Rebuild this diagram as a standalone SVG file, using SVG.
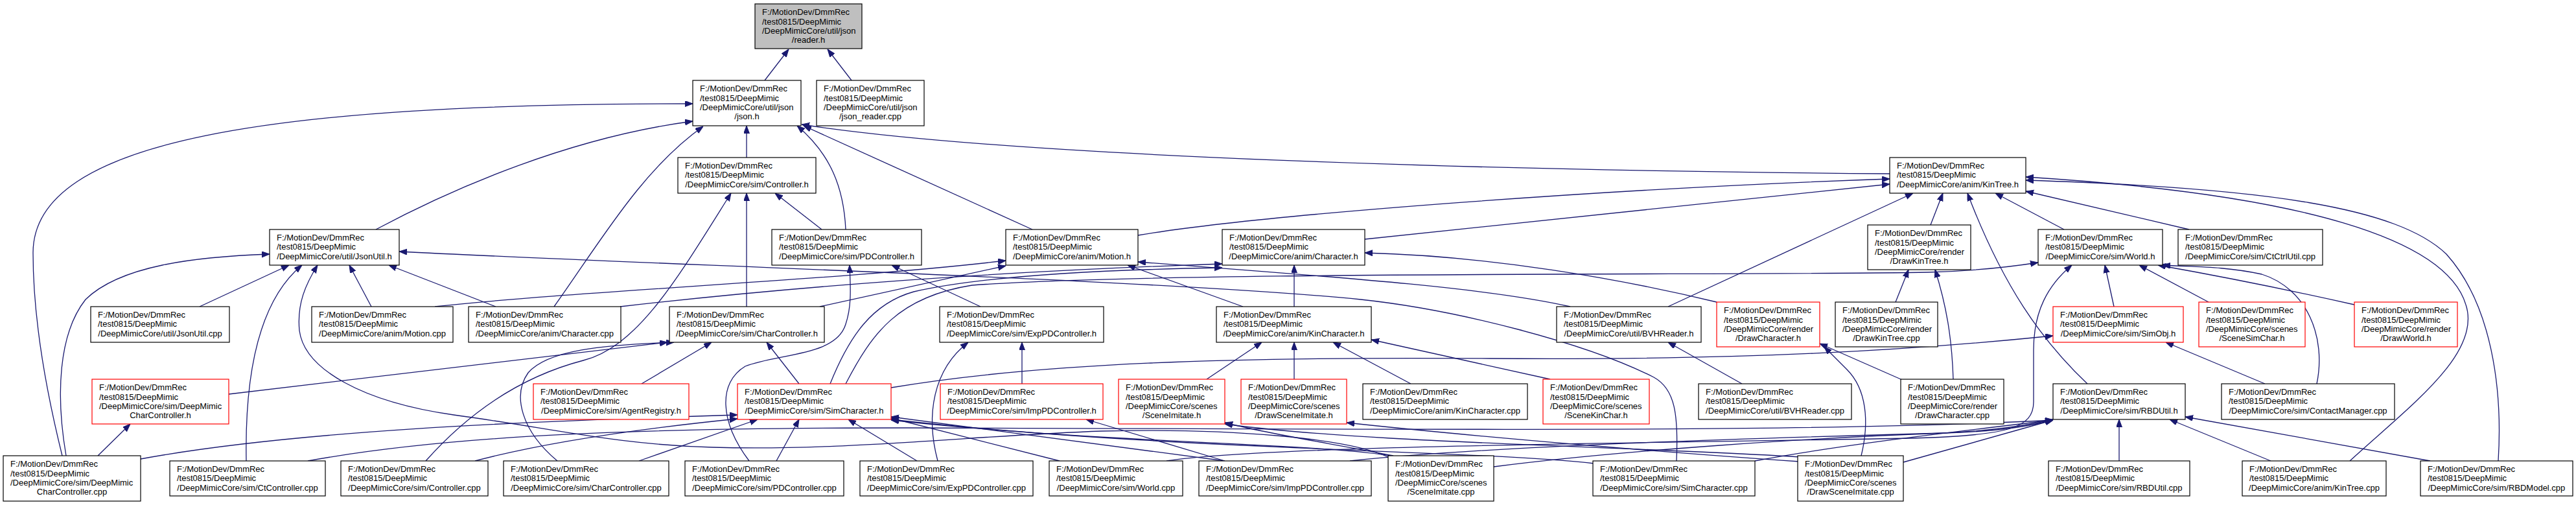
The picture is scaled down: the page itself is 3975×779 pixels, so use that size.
<svg xmlns="http://www.w3.org/2000/svg" width="3975" height="779" viewBox="0 0 3975 779">
<style>
.n rect{fill:#fff;stroke:#000;stroke-width:1.2}
.n.r rect{stroke:#f00}
.n.g rect{fill:#bfbfbf}
text{font-family:"Liberation Sans",Arial,sans-serif;font-size:13px;fill:#000}
.m{text-anchor:middle}
#edges path{fill:none;stroke:#191970;stroke-width:1.3;marker-end:url(#a)}
</style>
<defs>
<marker id="a" markerWidth="12" markerHeight="10" refX="12" refY="4.5" orient="auto" markerUnits="userSpaceOnUse"><path d="M0,0 L12,4.5 L0,9 Z" fill="#191970" stroke="#191970" stroke-width="1"/></marker>
</defs>
<rect width="3975" height="779" fill="#fff"/>
<g id="edges">
<path d="M1180,124 L1217,76"/>
<path d="M1314,124 L1277,76"/>
<path d="M96,703 C68,590 51,480 51,390 C51,215 420,160 1069,160"/>
<path d="M102,703 C86,610 90,515 132,462 C185,410 300,396 416,392"/>
<path d="M580,354 C700,290 880,212 1069,187"/>
<path d="M855,473 C925,375 990,262 1085,195"/>
<path d="M1152,243 L1152,194"/>
<path d="M1305,354 C1302,290 1282,238 1230,194"/>
<path d="M1593,354 L1240,194"/>
<path d="M2916,268 C2300,263 1560,242 1237,192"/>
<path d="M1756,363 C1950,330 2500,290 2916,276"/>
<path d="M2106,369 L2916,284"/>
<path d="M2574,473 L2952,298"/>
<path d="M2979,347 L2998,298"/>
<path d="M3221,592 C3150,525 3090,440 3036,298"/>
<path d="M3185,354 L3079,298"/>
<path d="M3378,354 L3126,295"/>
<path d="M3626,711 C3720,625 3830,545 3805,470 C3775,370 3560,300 3126,273"/>
<path d="M3855,711 C3862,600 3845,470 3775,392 C3700,320 3500,290 3126,278"/>
<path d="M1268,354 L1196,298"/>
<path d="M1152,473 L1152,298"/>
<path d="M657,711 C720,640 800,582 900,556 C985,534 1045,430 1128,298"/>
<path d="M308,473 L446,409"/>
<path d="M380,711 C378,600 392,470 466,409"/>
<path d="M573,473 L539,409"/>
<path d="M765,473 L600,409"/>
<path d="M860,711 C805,665 790,610 815,575 C845,540 930,532 1040,528"/>
<path d="M353,608 L1030,528"/>
<path d="M990,592 L1098,528"/>
<path d="M1233,592 L1183,528"/>
<path d="M151,703 L201,654"/>
<path d="M671,473 C900,448 1300,432 1552,402"/>
<path d="M957,473 C1200,445 1500,420 1886,407"/>
<path d="M1265,473 L1552,410"/>
<path d="M1281,592 C1310,520 1345,468 1410,450 C1520,425 1700,416 1886,413"/>
<path d="M1305,592 C1345,515 1385,458 1500,440 C1800,418 2700,425 2975,420 C3050,418 3100,412 3145,405"/>
<path d="M1375,598 C1600,560 1900,550 2300,553 C2700,556 2950,540 3168,518"/>
<path d="M2587,711 C2590,640 2585,600 2552,582 C2450,530 2250,478 2100,462 C1800,432 1000,408 616,388"/>
<path d="M2423,473 C2300,445 2100,430 1756,404"/>
<path d="M1997,473 L1997,409"/>
<path d="M1918,473 L1740,409"/>
<path d="M2649,466 C2500,430 2300,395 2106,390"/>
<path d="M1862,585 L1947,528"/>
<path d="M1997,585 L1997,528"/>
<path d="M2177,592 L2057,528"/>
<path d="M2392,585 L2116,524"/>
<path d="M2688,592 L2574,528"/>
<path d="M2940,588 L2808,530"/>
<path d="M2872,703 C2885,650 2880,600 2850,570 C2835,555 2825,545 2815,535"/>
<path d="M2925,466 L2945,416"/>
<path d="M3014,585 C3012,520 3003,470 2986,416"/>
<path d="M3262,473 L3248,409"/>
<path d="M3408,466 L3301,409"/>
<path d="M3633,470 C3500,440 3420,425 3330,409"/>
<path d="M3575,592 C3590,520 3560,445 3490,423 C3430,410 3380,412 3337,409"/>
<path d="M3495,592 L3342,528"/>
<path d="M1800,711 C1950,688 2500,684 2950,676 C3100,672 3138,660 3138,620 L3138,540 C3138,480 3160,440 3197,409"/>
<path d="M2083,711 C2300,688 2700,676 3000,668 C3080,666 3130,658 3168,648"/>
<path d="M2305,720 C2500,695 2800,675 3000,668 C3080,664 3130,656 3168,647"/>
<path d="M2708,711 C2850,685 3000,668 3168,648"/>
<path d="M2937,713 L3168,648"/>
<path d="M3270,711 L3270,647"/>
<path d="M3504,711 L3348,647"/>
<path d="M3750,711 L3372,643"/>
<path d="M475,711 C700,670 1000,660 1400,660 C2200,662 2800,668 3168,648"/>
<path d="M217,708 C450,665 800,650 1138,640"/>
<path d="M733,711 C850,680 1000,660 1138,646"/>
<path d="M986,711 L1169,647"/>
<path d="M1198,711 L1233,647"/>
<path d="M1415,711 L1309,647"/>
<path d="M1635,711 L1375,645"/>
<path d="M1890,711 L1375,643"/>
<path d="M1890,711 L1676,647"/>
<path d="M2150,704 C2050,684 1700,684 1375,648"/>
<path d="M2460,715 C2300,695 1800,695 1375,647"/>
<path d="M2150,703 C2060,685 1960,670 1890,652"/>
<path d="M2780,705 C2500,688 2100,683 1890,654"/>
<path d="M2777,712 C2600,700 2300,676 2078,652"/>
<path d="M2142,705 C2080,676 1900,660 1700,665 C1500,672 1300,696 1100,690 C950,686 850,660 700,640 C560,620 470,570 462,510 C458,468 472,438 490,409"/>
<path d="M1156,711 C1110,650 1108,590 1150,565 C1200,545 1290,550 1305,500 C1315,470 1312,440 1311,409"/>
<path d="M1447,711 C1428,640 1440,570 1494,528"/>
<path d="M1577,592 L1577,528"/>
<path d="M1513,473 L1376,409"/>
</g>

<g id="n0" class="n g"><rect x="1165" y="6" width="165" height="69"/><text x="1176" y="23.2">F:/MotionDev/DmmRec</text><text x="1176" y="37.6">/test0815/DeepMimic</text><text x="1176" y="52">/DeepMimicCore/util/json</text><text class="m" x="1247.5" y="66.4">/reader.h</text></g>
<g id="n1" class="n"><rect x="1069" y="124" width="167" height="70"/><text x="1080" y="141.2">F:/MotionDev/DmmRec</text><text x="1080" y="155.6">/test0815/DeepMimic</text><text x="1080" y="170">/DeepMimicCore/util/json</text><text class="m" x="1152.5" y="184.4">/json.h</text></g>
<g id="n2" class="n"><rect x="1260" y="124" width="166" height="70"/><text x="1271" y="141.2">F:/MotionDev/DmmRec</text><text x="1271" y="155.6">/test0815/DeepMimic</text><text x="1271" y="170">/DeepMimicCore/util/json</text><text class="m" x="1343" y="184.4">/json_reader.cpp</text></g>
<g id="n3" class="n"><rect x="1046" y="243" width="213" height="55"/><text x="1057" y="260">F:/MotionDev/DmmRec</text><text x="1057" y="274.4">/test0815/DeepMimic</text><text class="m" x="1152.5" y="288.8">/DeepMimicCore/sim/Controller.h</text></g>
<g id="n4" class="n"><rect x="2916" y="243" width="210" height="55"/><text x="2927" y="260">F:/MotionDev/DmmRec</text><text x="2927" y="274.4">/test0815/DeepMimic</text><text class="m" x="3021" y="288.8">/DeepMimicCore/anim/KinTree.h</text></g>

<g id="n5" class="n"><rect x="416" y="354" width="200" height="55"/><text x="427" y="371">F:/MotionDev/DmmRec</text><text x="427" y="385.4">/test0815/DeepMimic</text><text class="m" x="516" y="399.8">/DeepMimicCore/util/JsonUtil.h</text></g>
<g id="n6" class="n"><rect x="1191" y="354" width="231" height="55"/><text x="1202" y="371">F:/MotionDev/DmmRec</text><text x="1202" y="385.4">/test0815/DeepMimic</text><text class="m" x="1306.5" y="399.8">/DeepMimicCore/sim/PDController.h</text></g>
<g id="n7" class="n"><rect x="1552" y="354" width="204" height="55"/><text x="1563" y="371">F:/MotionDev/DmmRec</text><text x="1563" y="385.4">/test0815/DeepMimic</text><text class="m" x="1654" y="399.8">/DeepMimicCore/anim/Motion.h</text></g>
<g id="n8" class="n"><rect x="1886" y="354" width="220" height="55"/><text x="1897" y="371">F:/MotionDev/DmmRec</text><text x="1897" y="385.4">/test0815/DeepMimic</text><text class="m" x="1996" y="399.8">/DeepMimicCore/anim/Character.h</text></g>
<g id="n9" class="n"><rect x="2882" y="347" width="159" height="69"/><text x="2893" y="364.2">F:/MotionDev/DmmRec</text><text x="2893" y="378.6">/test0815/DeepMimic</text><text x="2893" y="393">/DeepMimicCore/render</text><text class="m" x="2961.5" y="407.4">/DrawKinTree.h</text></g>
<g id="n10" class="n"><rect x="3145" y="354" width="192" height="55"/><text x="3156" y="371">F:/MotionDev/DmmRec</text><text x="3156" y="385.4">/test0815/DeepMimic</text><text class="m" x="3241" y="399.8">/DeepMimicCore/sim/World.h</text></g>
<g id="n11" class="n"><rect x="3361" y="354" width="223" height="55"/><text x="3372" y="371">F:/MotionDev/DmmRec</text><text x="3372" y="385.4">/test0815/DeepMimic</text><text class="m" x="3472.5" y="399.8">/DeepMimicCore/sim/CtCtrlUtil.cpp</text></g>

<g id="n12" class="n"><rect x="140" y="473" width="214" height="55"/><text x="151" y="490">F:/MotionDev/DmmRec</text><text x="151" y="504.4">/test0815/DeepMimic</text><text class="m" x="247" y="518.8">/DeepMimicCore/util/JsonUtil.cpp</text></g>
<g id="n13" class="n"><rect x="481" y="473" width="218" height="55"/><text x="492" y="490">F:/MotionDev/DmmRec</text><text x="492" y="504.4">/test0815/DeepMimic</text><text class="m" x="590" y="518.8">/DeepMimicCore/anim/Motion.cpp</text></g>
<g id="n14" class="n"><rect x="723" y="473" width="235" height="55"/><text x="734" y="490">F:/MotionDev/DmmRec</text><text x="734" y="504.4">/test0815/DeepMimic</text><text class="m" x="840.5" y="518.8">/DeepMimicCore/anim/Character.cpp</text></g>
<g id="n15" class="n"><rect x="1033" y="473" width="239" height="55"/><text x="1044" y="490">F:/MotionDev/DmmRec</text><text x="1044" y="504.4">/test0815/DeepMimic</text><text class="m" x="1152.5" y="518.8">/DeepMimicCore/sim/CharController.h</text></g>
<g id="n16" class="n"><rect x="1450" y="473" width="253" height="55"/><text x="1461" y="490">F:/MotionDev/DmmRec</text><text x="1461" y="504.4">/test0815/DeepMimic</text><text class="m" x="1576.5" y="518.8">/DeepMimicCore/sim/ExpPDController.h</text></g>
<g id="n17" class="n"><rect x="1877" y="473" width="239" height="55"/><text x="1888" y="490">F:/MotionDev/DmmRec</text><text x="1888" y="504.4">/test0815/DeepMimic</text><text class="m" x="1996.5" y="518.8">/DeepMimicCore/anim/KinCharacter.h</text></g>
<g id="n18" class="n"><rect x="2402" y="473" width="223" height="55"/><text x="2413" y="490">F:/MotionDev/DmmRec</text><text x="2413" y="504.4">/test0815/DeepMimic</text><text class="m" x="2513.5" y="518.8">/DeepMimicCore/util/BVHReader.h</text></g>
<g id="n19" class="n r"><rect x="2649" y="466" width="159" height="69"/><text x="2660" y="483.2">F:/MotionDev/DmmRec</text><text x="2660" y="497.6">/test0815/DeepMimic</text><text x="2660" y="512">/DeepMimicCore/render</text><text class="m" x="2728.5" y="526.4">/DrawCharacter.h</text></g>
<g id="n20" class="n"><rect x="2832" y="466" width="158" height="69"/><text x="2843" y="483.2">F:/MotionDev/DmmRec</text><text x="2843" y="497.6">/test0815/DeepMimic</text><text x="2843" y="512">/DeepMimicCore/render</text><text class="m" x="2911" y="526.4">/DrawKinTree.cpp</text></g>
<g id="n21" class="n r"><rect x="3168" y="473" width="201" height="55"/><text x="3179" y="490">F:/MotionDev/DmmRec</text><text x="3179" y="504.4">/test0815/DeepMimic</text><text class="m" x="3268.5" y="518.8">/DeepMimicCore/sim/SimObj.h</text></g>
<g id="n22" class="n r"><rect x="3393" y="466" width="164" height="69"/><text x="3404" y="483.2">F:/MotionDev/DmmRec</text><text x="3404" y="497.6">/test0815/DeepMimic</text><text x="3404" y="512">/DeepMimicCore/scenes</text><text class="m" x="3475" y="526.4">/SceneSimChar.h</text></g>
<g id="n23" class="n r"><rect x="3633" y="466" width="159" height="69"/><text x="3644" y="483.2">F:/MotionDev/DmmRec</text><text x="3644" y="497.6">/test0815/DeepMimic</text><text x="3644" y="512">/DeepMimicCore/render</text><text class="m" x="3712.5" y="526.4">/DrawWorld.h</text></g>

<g id="n24" class="n r"><rect x="142" y="585" width="211" height="69"/><text x="153" y="602.2">F:/MotionDev/DmmRec</text><text x="153" y="616.6">/test0815/DeepMimic</text><text x="153" y="631">/DeepMimicCore/sim/DeepMimic</text><text class="m" x="247.5" y="645.4">CharController.h</text></g>
<g id="n25" class="n r"><rect x="823" y="592" width="240" height="55"/><text x="834" y="609">F:/MotionDev/DmmRec</text><text x="834" y="623.4">/test0815/DeepMimic</text><text class="m" x="943" y="637.8">/DeepMimicCore/sim/AgentRegistry.h</text></g>
<g id="n26" class="n r"><rect x="1138" y="592" width="237" height="55"/><text x="1149" y="609">F:/MotionDev/DmmRec</text><text x="1149" y="623.4">/test0815/DeepMimic</text><text class="m" x="1256.5" y="637.8">/DeepMimicCore/sim/SimCharacter.h</text></g>
<g id="n27" class="n r"><rect x="1451" y="592" width="251" height="55"/><text x="1462" y="609">F:/MotionDev/DmmRec</text><text x="1462" y="623.4">/test0815/DeepMimic</text><text class="m" x="1576.5" y="637.8">/DeepMimicCore/sim/ImpPDController.h</text></g>
<g id="n28" class="n r"><rect x="1726" y="585" width="164" height="69"/><text x="1737" y="602.2">F:/MotionDev/DmmRec</text><text x="1737" y="616.6">/test0815/DeepMimic</text><text x="1737" y="631">/DeepMimicCore/scenes</text><text class="m" x="1808" y="645.4">/SceneImitate.h</text></g>
<g id="n29" class="n r"><rect x="1915" y="585" width="163" height="69"/><text x="1926" y="602.2">F:/MotionDev/DmmRec</text><text x="1926" y="616.6">/test0815/DeepMimic</text><text x="1926" y="631">/DeepMimicCore/scenes</text><text class="m" x="1996.5" y="645.4">/DrawSceneImitate.h</text></g>
<g id="n30" class="n"><rect x="2103" y="592" width="254" height="55"/><text x="2114" y="609">F:/MotionDev/DmmRec</text><text x="2114" y="623.4">/test0815/DeepMimic</text><text class="m" x="2230" y="637.8">/DeepMimicCore/anim/KinCharacter.cpp</text></g>
<g id="n31" class="n r"><rect x="2381" y="585" width="164" height="69"/><text x="2392" y="602.2">F:/MotionDev/DmmRec</text><text x="2392" y="616.6">/test0815/DeepMimic</text><text x="2392" y="631">/DeepMimicCore/scenes</text><text class="m" x="2463" y="645.4">/SceneKinChar.h</text></g>
<g id="n32" class="n"><rect x="2621" y="592" width="236" height="55"/><text x="2632" y="609">F:/MotionDev/DmmRec</text><text x="2632" y="623.4">/test0815/DeepMimic</text><text class="m" x="2739" y="637.8">/DeepMimicCore/util/BVHReader.cpp</text></g>
<g id="n33" class="n"><rect x="2933" y="585" width="159" height="69"/><text x="2944" y="602.2">F:/MotionDev/DmmRec</text><text x="2944" y="616.6">/test0815/DeepMimic</text><text x="2944" y="631">/DeepMimicCore/render</text><text class="m" x="3012.5" y="645.4">/DrawCharacter.cpp</text></g>
<g id="n34" class="n"><rect x="3168" y="592" width="204" height="55"/><text x="3179" y="609">F:/MotionDev/DmmRec</text><text x="3179" y="623.4">/test0815/DeepMimic</text><text class="m" x="3270" y="637.8">/DeepMimicCore/sim/RBDUtil.h</text></g>
<g id="n35" class="n"><rect x="3428" y="592" width="267" height="55"/><text x="3439" y="609">F:/MotionDev/DmmRec</text><text x="3439" y="623.4">/test0815/DeepMimic</text><text class="m" x="3561.5" y="637.8">/DeepMimicCore/sim/ContactManager.cpp</text></g>

<g id="n36" class="n"><rect x="5" y="703" width="212" height="70"/><text x="16" y="720.2">F:/MotionDev/DmmRec</text><text x="16" y="734.6">/test0815/DeepMimic</text><text x="16" y="749">/DeepMimicCore/sim/DeepMimic</text><text class="m" x="111" y="763.4">CharController.cpp</text></g>
<g id="n37" class="n"><rect x="262" y="711" width="240" height="54"/><text x="273" y="728">F:/MotionDev/DmmRec</text><text x="273" y="742.4">/test0815/DeepMimic</text><text class="m" x="382" y="756.8">/DeepMimicCore/sim/CtController.cpp</text></g>
<g id="n38" class="n"><rect x="526" y="711" width="227" height="54"/><text x="537" y="728">F:/MotionDev/DmmRec</text><text x="537" y="742.4">/test0815/DeepMimic</text><text class="m" x="639.5" y="756.8">/DeepMimicCore/sim/Controller.cpp</text></g>
<g id="n39" class="n"><rect x="777" y="711" width="255" height="54"/><text x="788" y="728">F:/MotionDev/DmmRec</text><text x="788" y="742.4">/test0815/DeepMimic</text><text class="m" x="904.5" y="756.8">/DeepMimicCore/sim/CharController.cpp</text></g>
<g id="n40" class="n"><rect x="1057" y="711" width="245" height="54"/><text x="1068" y="728">F:/MotionDev/DmmRec</text><text x="1068" y="742.4">/test0815/DeepMimic</text><text class="m" x="1179.5" y="756.8">/DeepMimicCore/sim/PDController.cpp</text></g>
<g id="n41" class="n"><rect x="1327" y="711" width="267" height="54"/><text x="1338" y="728">F:/MotionDev/DmmRec</text><text x="1338" y="742.4">/test0815/DeepMimic</text><text class="m" x="1460.5" y="756.8">/DeepMimicCore/sim/ExpPDController.cpp</text></g>
<g id="n42" class="n"><rect x="1619" y="711" width="206" height="54"/><text x="1630" y="728">F:/MotionDev/DmmRec</text><text x="1630" y="742.4">/test0815/DeepMimic</text><text class="m" x="1722" y="756.8">/DeepMimicCore/sim/World.cpp</text></g>
<g id="n43" class="n"><rect x="1850" y="711" width="266" height="54"/><text x="1861" y="728">F:/MotionDev/DmmRec</text><text x="1861" y="742.4">/test0815/DeepMimic</text><text class="m" x="1983" y="756.8">/DeepMimicCore/sim/ImpPDController.cpp</text></g>
<g id="n44" class="n"><rect x="2142" y="703" width="163" height="70"/><text x="2153" y="720.2">F:/MotionDev/DmmRec</text><text x="2153" y="734.6">/test0815/DeepMimic</text><text x="2153" y="749">/DeepMimicCore/scenes</text><text class="m" x="2223.5" y="763.4">/SceneImitate.cpp</text></g>
<g id="n45" class="n"><rect x="2458" y="711" width="250" height="54"/><text x="2469" y="728">F:/MotionDev/DmmRec</text><text x="2469" y="742.4">/test0815/DeepMimic</text><text class="m" x="2583" y="756.8">/DeepMimicCore/sim/SimCharacter.cpp</text></g>
<g id="n46" class="n"><rect x="2774" y="703" width="163" height="70"/><text x="2785" y="720.2">F:/MotionDev/DmmRec</text><text x="2785" y="734.6">/test0815/DeepMimic</text><text x="2785" y="749">/DeepMimicCore/scenes</text><text class="m" x="2855.5" y="763.4">/DrawSceneImitate.cpp</text></g>
<g id="n47" class="n"><rect x="3161" y="711" width="218" height="54"/><text x="3172" y="728">F:/MotionDev/DmmRec</text><text x="3172" y="742.4">/test0815/DeepMimic</text><text class="m" x="3270" y="756.8">/DeepMimicCore/sim/RBDUtil.cpp</text></g>
<g id="n48" class="n"><rect x="3460" y="711" width="222" height="54"/><text x="3471" y="728">F:/MotionDev/DmmRec</text><text x="3471" y="742.4">/test0815/DeepMimic</text><text class="m" x="3571" y="756.8">/DeepMimicCore/anim/KinTree.cpp</text></g>
<g id="n49" class="n"><rect x="3735" y="711" width="235" height="54"/><text x="3746" y="728">F:/MotionDev/DmmRec</text><text x="3746" y="742.4">/test0815/DeepMimic</text><text class="m" x="3852.5" y="756.8">/DeepMimicCore/sim/RBDModel.cpp</text></g>
</svg>
